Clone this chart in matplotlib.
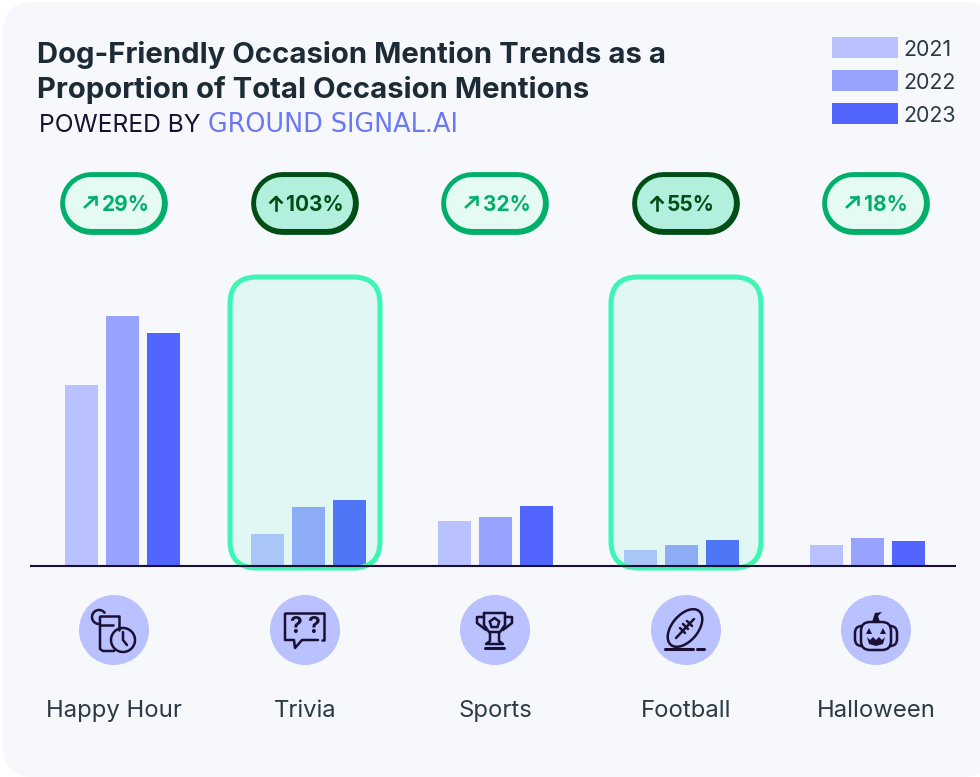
import numpy as np
import matplotlib
matplotlib.use('Agg')
import matplotlib.pyplot as plt
from matplotlib.patches import FancyBboxPatch, Rectangle, Circle, Ellipse, Polygon, Arc

# Values (bar heights, arbitrary share units)
categories = ['Happy Hour', 'Trivia', 'Sports', 'Football', 'Halloween']
years = ['2021', '2022', '2023']
values_2021 = [18.1, 3.2, 4.5, 1.6, 2.1]
values_2022 = [25.0, 5.9, 4.9, 2.1, 2.8]
values_2023 = [23.3, 6.6, 6.0, 2.6, 2.5]
change_labels = ['29%', '103%', '32%', '55%', '18%']
highlighted = [False, True, False, True, False]
year_colors = ['#B9C1FF', '#97A3FF', '#5266FF']

card_color = '#F6F8FB'
dark_text = '#1C2B36'
label_color = '#2B3A45'
icon_dark = '#1A1033'
disc_color = '#B9C1FF'

plt.rcParams['font.family'] = ['Inter', 'DejaVu Sans']

fig = plt.figure(figsize=(9.8, 7.77), dpi=100, facecolor='white')

# Background axis in pixel coordinates
back = fig.add_axes([0, 0, 1, 1], zorder=0)
back.set_xlim(0, 980)
back.set_ylim(777, 0)
back.axis('off')
back.add_patch(FancyBboxPatch((3, 2), 990, 775, boxstyle='round,pad=0,rounding_size=30',
                              fc=card_color, ec='none'))

# Bars
ax = fig.add_axes([0, 211 / 777, 1, 566 / 777], zorder=1)
ax.patch.set_alpha(0)
step = 186.25
ax.set_xlim(-122.5 / step, (980 - 122.5) / step)
ax.set_ylim(0, 56.6)
ax.axis('off')
x = np.arange(len(categories))
offset = 41 / step
width = 33 / step
for i, series in enumerate([values_2021, values_2022, values_2023]):
    ax.bar(x + (i - 1) * offset, series, width, color=year_colors[i])

# Overlay in pixel coordinates
top = fig.add_axes([0, 0, 1, 1], zorder=2)
top.patch.set_alpha(0)
top.set_xlim(0, 980)
top.set_ylim(777, 0)
top.axis('off')

top.plot([30, 956], [566, 566], color=icon_dark, lw=1.5, solid_capstyle='butt')

centers = [114, 305, 495, 686, 876]
for cx, hl in zip(centers, highlighted):
    if hl:
        top.add_patch(FancyBboxPatch((cx - 75, 277), 150, 291, boxstyle='round,pad=0,rounding_size=27',
                                     fc=(0.24, 0.96, 0.71, 0.115), ec='#3DF5B4', lw=3.6))

# Title
top.text(37, 55, 'Dog-Friendly Occasion Mention Trends as a', fontsize=21.1, fontweight='bold',
         color=dark_text, va='center', ha='left')
top.text(37, 90, 'Proportion of Total Occasion Mentions', fontsize=21.1, fontweight='bold',
         color=dark_text, va='center', ha='left')
top.text(39, 125, 'POWERED BY', fontsize=17.7, color=icon_dark, va='center', ha='left')
top.text(208, 125, 'GROUND SIGNAL.AI', fontsize=18.4, color='#6B78F2', va='center', ha='left',
         family='DejaVu Sans')

# Legend
for y0, year, col in zip([37, 70, 103], years, year_colors):
    top.add_patch(Rectangle((832, y0), 66, 21, fc=col, ec='none'))
    top.text(903.5, y0 + 13, year, fontsize=15.4, color=label_color, va='center', ha='left')

# Change pills, thick round-capped lines give the full half circle ends
for cx, lab, hl in zip(centers, change_labels, highlighted):
    edge = '#004D16' if hl else '#00B06A'
    fill = '#B2F0DD' if hl else '#E6FAF4'
    top.plot([cx - 23.5, cx + 21.5], [202.5, 202.5], color=edge, lw=45.2, solid_capstyle='round')
    top.plot([cx - 23.5, cx + 21.5], [202.5, 202.5], color=fill, lw=37.4, solid_capstyle='round')
    if hl:
        ax_x = cx - 29
        top.plot([ax_x, ax_x], [210, 197], color=edge, lw=1.9)
        top.plot([ax_x - 5.5, ax_x, ax_x + 5.5], [202.5, 197, 202.5], color=edge, lw=1.9)
        top.text(cx - 19, 205, lab, fontsize=15, fontweight='bold', color=edge, va='center', ha='left')
    else:
        top.plot([cx - 29, cx - 18], [207, 197], color=edge, lw=1.9)
        top.plot([cx - 25, cx - 18, cx - 18], [197, 197, 204], color=edge, lw=1.9)
        top.text(cx - 12.5, 205, lab, fontsize=15, fontweight='bold', color=edge, va='center', ha='left')

# Icon discs and names
for cx, name in zip(centers, categories):
    top.add_patch(Circle((cx, 630), 35, fc=disc_color, ec='none'))
    top.text(cx, 711, name, fontsize=17.2, color=label_color, va='center', ha='center')

ilw = 1.8
def line(xs, ys, lw=ilw):
    top.plot(xs, ys, color=icon_dark, lw=lw, solid_capstyle='round', solid_joinstyle='round')

# Happy hour: glass, lemon, clock
top.add_patch(Arc((99, 617), 14, 14, theta1=80, theta2=330, color=icon_dark, lw=ilw))
line([100, 100, 103, 114], [617, 649, 651, 651])
line([100, 119, 119], [616, 616, 630])
line([100, 113], [625, 625])
top.add_patch(Circle((123, 640), 12, fc=disc_color, ec=icon_dark, lw=ilw))
line([123, 123, 127], [632, 640, 645])

# Trivia: speech bubble
line([285, 285, 294, 295, 302, 318], [614, 640, 640, 648, 640, 640])
line([322, 324, 324, 285], [640, 640, 613, 613])
top.text(295, 627, '?', fontsize=16.5, fontweight='bold', color=icon_dark, ha='center', va='center')
top.text(313, 627, '?', fontsize=16.5, fontweight='bold', color=icon_dark, ha='center', va='center')

# Sports: trophy
line([484, 505, 505, 500, 489, 484, 484], [613, 613, 625, 632, 632, 625, 613])
line([484, 477, 477, 486], [617, 617, 623, 630])
line([505, 512, 512, 503], [617, 617, 623, 630])
line([490, 490, 486, 503, 499, 499], [632, 641, 644, 644, 641, 632])
line([485, 504], [648, 648], lw=2.2)
ang = np.deg2rad(np.arange(5) * 72 - 90)
top.add_patch(Polygon(np.c_[494.5 + 5 * np.cos(ang), 623 + 5 * np.sin(ang)], closed=True,
                      fc='none', ec=icon_dark, lw=ilw))

# Football
top.add_patch(Ellipse((685, 628), 44, 26, angle=-50, fc='none', ec=icon_dark, lw=ilw))
line([676, 694], [638, 619])
line([680, 685], [628, 633])
line([683, 688], [624, 629])
line([687, 692], [621, 626])
line([665, 693], [649, 649], lw=2.2)
line([697, 704], [649, 649], lw=2.2)

# Halloween: pumpkin
top.add_patch(FancyBboxPatch((855, 626), 42, 20, boxstyle='round,pad=0,rounding_size=7',
                             fc='none', ec=icon_dark, lw=ilw))
top.add_patch(FancyBboxPatch((861, 622), 30, 28, boxstyle='round,pad=0,rounding_size=9',
                             fc=disc_color, ec=icon_dark, lw=ilw))
top.add_patch(Polygon([[872, 622], [875, 613], [882, 612], [878, 616], [880, 622]], closed=True,
                      fc=icon_dark, ec='none'))
top.add_patch(Polygon([[866, 634], [869, 628], [872, 634]], closed=True, fc=icon_dark, ec='none'))
top.add_patch(Polygon([[880, 634], [883, 628], [886, 634]], closed=True, fc=icon_dark, ec='none'))
top.add_patch(Polygon([[867, 637], [870, 640], [873, 637], [876, 640], [879, 637], [882, 640], [885, 637],
                       [883, 644], [876, 646], [869, 644]], closed=True, fc=icon_dark, ec='none'))

plt.savefig('out.png', dpi=100, facecolor='white')
